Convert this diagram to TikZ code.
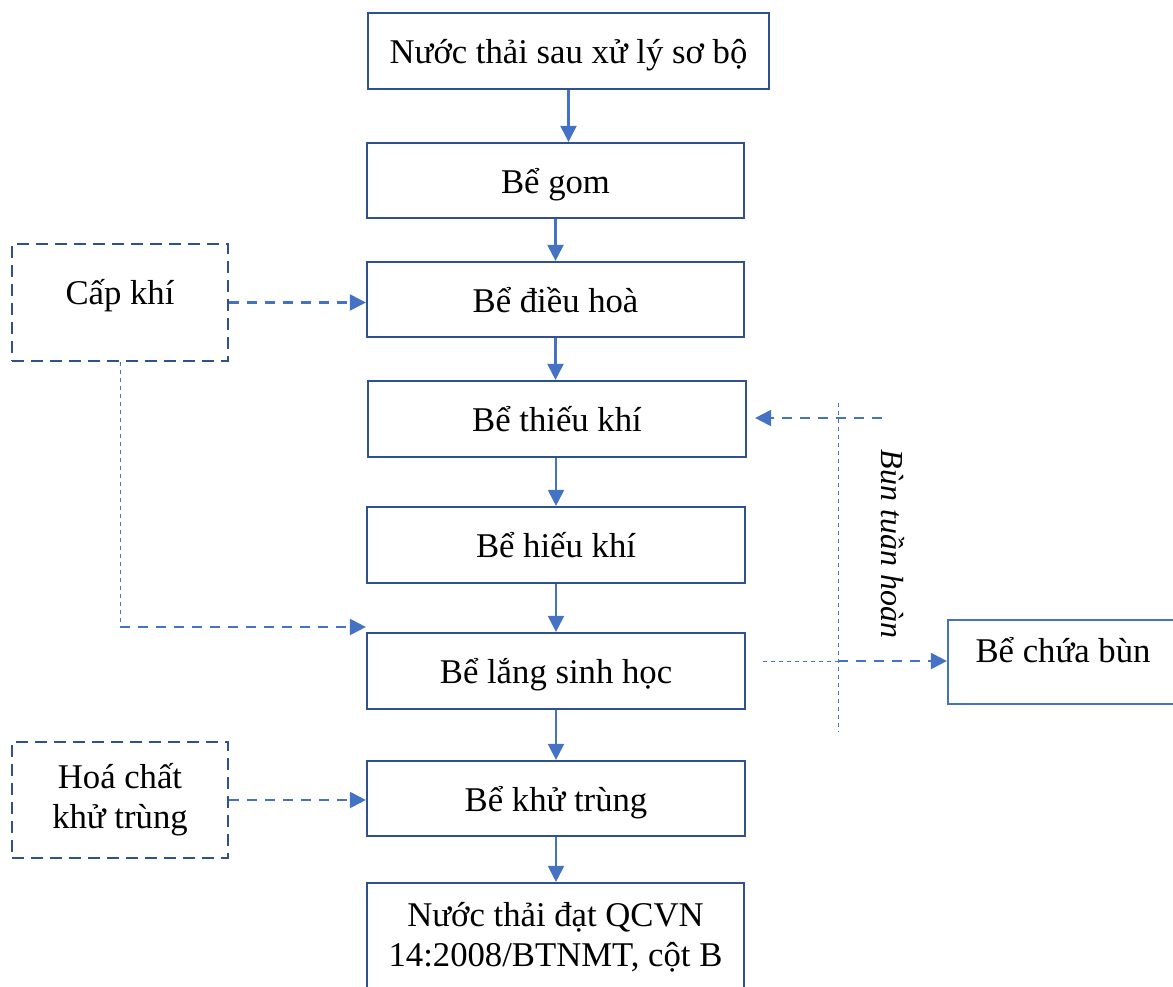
\documentclass[tikz,border=0pt]{standalone}
\usepackage{fontspec}
\setmainfont{Liberation Serif}
\usetikzlibrary{arrows.meta}
\definecolor{boxblue}{HTML}{2F528F}
\definecolor{arrblue}{HTML}{4472C4}
\newcommand\mainsz{\fontsize{34.7}{40}\selectfont}
\tikzset{
  proc/.style={draw=boxblue, line width=2.2pt, rectangle, inner sep=0pt, align=center, font=\mainsz},
  onel/.style={text height=33pt, text depth=8pt},
  dbox/.style={draw=boxblue, line width=2.2pt, dash pattern=on 12pt off 7pt, rectangle, inner sep=0pt, align=center, font=\mainsz},
  txt/.style={inner sep=0pt, align=center, font=\mainsz},
  flow/.style={draw=arrblue, line width=2.2pt, -{Triangle[length=16pt,width=16pt]}},
  dflow/.style={draw=arrblue, line width=2.2pt, dash pattern=on 10pt off 8pt, -{Triangle[length=16pt,width=16pt]}},
  thinline/.style={draw=arrblue, line width=1pt, dash pattern=on 4pt off 4pt},
}
\begin{document}
\begin{tikzpicture}[x=1pt,y=-1pt]
\useasboundingbox (0,0) rectangle (1173,986);
\clip (0,0) rectangle (1173,986);
% main column
\node[proc, onel, minimum width=401pt, minimum height=76pt] (b1) at (568.5,51) {Nước thải sau xử lý sơ bộ};
\node[proc, onel, minimum width=377pt, minimum height=75pt] (b2) at (555.5,180.5) {Bể gom};
\node[proc, onel, minimum width=377pt, minimum height=75pt] (b3) at (555.5,299.5) {Bể điều hoà};
\node[proc, onel, minimum width=378pt, minimum height=76pt] (b4) at (557,419) {Bể thiếu khí};
\node[proc, onel, minimum width=378pt, minimum height=76pt] (b5) at (556,545) {Bể hiếu khí};
\node[proc, onel, minimum width=378pt, minimum height=76pt] (b6) at (556,671) {Bể lắng sinh học};
\node[proc, onel, minimum width=378pt, minimum height=75pt] (b7) at (556,798.5) {Bể khử trùng};
\node[proc, minimum width=377pt, minimum height=127pt] (b8) at (555.5,946.5) {};
\node[txt] (b8t) at (555.5,937) {Nước thải đạt QCVN\\14:2008/BTNMT, cột B};
% side boxes
\node[dbox, minimum width=216pt, minimum height=117pt] (cap) at (120,302.5) {};
\node[txt, onel] (capt) at (120,291.5) {Cấp khí};
\node[dbox, minimum width=216pt, minimum height=116pt] (hoa) at (120,800) {Hoá chất\\khử trùng};
\node[proc, draw=arrblue, minimum width=230pt, minimum height=84pt] (chua) at (1063,662) {};
\node[txt, onel] (chuat) at (1063,649.5) {Bể chứa bùn};
\node[txt, font=\fontsize{32}{38}\selectfont\itshape, rotate=-90] (bun) at (893,544) {Bùn tuần hoàn};
% main flow
\draw[flow] (b1.south) -- (b1.south |- b2.north);
\draw[flow] (b2.south) -- (b2.south |- b3.north);
\draw[flow] (b3.south) -- (b3.south |- b4.north);
\draw[flow] (b4.south -| b5.north) -- (b5.north);
\draw[flow] (b5.south) -- (b5.south |- b6.north);
\draw[flow] (b6.south) -- (b6.south |- b7.north);
\draw[flow] (b7.south) -- (b7.south |- b8.north);
% air supply
\draw[dflow] (cap.east) -- (cap.east -| b3.west);
\coordinate (capcorner) at (120,627);
\draw[thinline] (cap.south) -- (capcorner);
\draw[dflow] (capcorner) -- (capcorner -| b6.west);
% chemicals
\draw[dflow] (hoa.east) -- (hoa.east -| b7.west);
% sludge recirculation
\coordinate (recstart) at (882,418);
\draw[dflow, shorten >=8pt] (recstart) -- (recstart -| b4.east);
\coordinate (vtop) at (838,403);
\coordinate (vbot) at (838,732);
\draw[thinline] (vtop) -- (vbot);
\coordinate (hstart) at (763,661);
\coordinate (hmid) at (838,661);
\draw[thinline] (hstart) -- (hmid);
\draw[dflow] (hmid) -- (hmid -| chua.west);
\end{tikzpicture}
\end{document}
